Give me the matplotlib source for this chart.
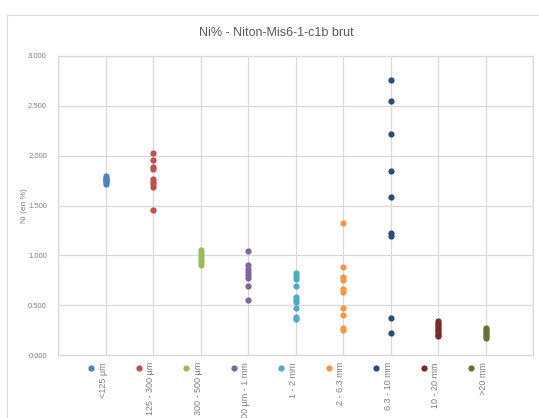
import matplotlib
matplotlib.use("Agg")
import matplotlib.pyplot as plt
from matplotlib.patches import Rectangle
from matplotlib.transforms import blended_transform_factory

plt.rcParams['font.family'] = ['Liberation Sans', 'DejaVu Sans']

# size classes and Ni values (%)
categories = ["<125 µm", "125 - 300 µm", "300 - 500 µm", "500 µm - 1 mm", "1 - 2 mm",
              "2 - 6.3 mm", "6.3 - 10 mm", "10 - 20 mm", ">20 mm"]
ni_125 = [1.72, 1.74, 1.75, 1.76, 1.77, 1.78, 1.80]
ni_125_300 = [2.03, 1.96, 1.89, 1.87, 1.77, 1.74, 1.72, 1.69, 1.45]
ni_300_500 = [1.05, 1.02, 0.99, 0.96, 0.93, 0.90]
ni_500_1 = [1.04, 0.90, 0.86, 0.83, 0.80, 0.77, 0.69, 0.55]
ni_1_2 = [0.82, 0.79, 0.76, 0.69, 0.58, 0.55, 0.53, 0.47, 0.38, 0.36]
ni_2_63 = [1.32, 0.88, 0.78, 0.75, 0.66, 0.63, 0.47, 0.40, 0.27, 0.25]
ni_63_10 = [2.76, 2.55, 2.22, 1.85, 1.59, 1.22, 1.19, 0.37, 0.22]
ni_10_20 = [0.34, 0.32, 0.30, 0.28, 0.26, 0.24, 0.22, 0.20, 0.19]
ni_20 = [0.27, 0.25, 0.23, 0.21, 0.19, 0.17]
series = [ni_125, ni_125_300, ni_300_500, ni_500_1, ni_1_2, ni_2_63, ni_63_10, ni_10_20, ni_20]
colors = ["#4F81BD", "#C0504D", "#9BBB59", "#8064A2", "#4BACC6",
          "#F79646", "#2C4D75", "#772C2A", "#5F7530"]

W, H = 539, 418
fig = plt.figure(figsize=(W / 100, H / 100), dpi=100)
fig.patch.set_facecolor("white")

# outer chart frame
fig.add_artist(Rectangle((7 / W, -0.1), 1.1, (H - 15) / H + 0.1, transform=fig.transFigure,
                         fill=False, edgecolor="#D9D9D9", linewidth=0.8))

ax = fig.add_axes([58 / W, (H - 355) / H, (533 - 58) / W, (355 - 56) / H])

for i, (vals, c) in enumerate(zip(series, colors)):
    ax.plot([i + 1] * len(vals), vals, "o", color=c, markersize=4.5, markeredgewidth=0,
            linestyle="none", zorder=3)

ax.set_xlim(0, 10)
ax.set_ylim(0, 3)
ax.set_xticks(range(0, 11))
ax.set_xticklabels([])
ax.set_yticks([0, 0.5, 1, 1.5, 2, 2.5, 3])
ax.set_yticklabels(["%.3f" % v for v in [0, 0.5, 1, 1.5, 2, 2.5, 3]])
ax.tick_params(axis="both", length=0, labelsize=5.5, labelcolor="#7F7F7F", pad=8)
ax.grid(True, color="#D9D9D9", linewidth=0.9)
ax.set_axisbelow(True)
for s in ax.spines.values():
    s.set_color("#D9D9D9")
    s.set_linewidth(0.9)

ax.set_ylabel("Ni (en %)", fontsize=6, color="#7F7F7F", labelpad=0)
fig.text(276 / W, (H - 33) / H, "Ni% - Niton-Mis6-1-c1b brut", ha="center", va="center",
         fontsize=9, color="#595959")

# legend under each category, rotated like the original
tr = blended_transform_factory(ax.transData, fig.transFigure)
for i, (lab, c) in enumerate(zip(categories, colors)):
    ax.plot([i + 1 - 0.3], [(H - 368) / H], "o", color=c, markersize=4.5,
            markeredgewidth=0, transform=tr, clip_on=False)
    ax.text(i + 1 - 0.05, (H - 362) / H, lab, rotation=90, ha="center", va="top",
            fontsize=6.5, color="#7F7F7F", transform=tr, clip_on=False)

fig.savefig("out.png", dpi=100)
